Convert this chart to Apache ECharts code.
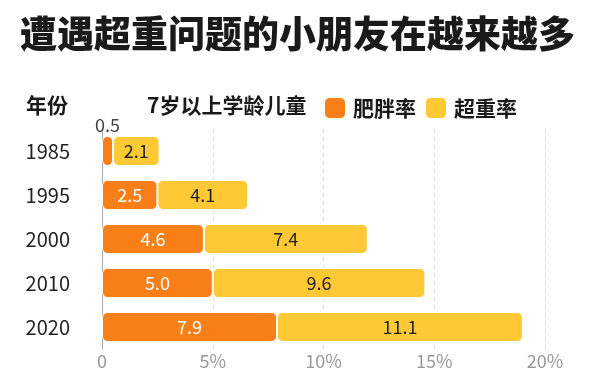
<!DOCTYPE html>
<html><head><meta charset="utf-8">
<script src="https://cdn.jsdelivr.net/npm/echarts@6/dist/echarts.min.js"></script>
<style>html,body{margin:0;padding:0;background:#fff}#c{width:600px;height:381px}</style>
</head><body><div id="c"></div>
<script>
const years = ['1985', '1995', '2000', '2010', '2020'];
const obese = [0.5, 2.5, 4.6, 5.0, 7.9];
const overweight = [2.1, 4.1, 7.4, 9.6, 11.1];
const xTicks = [0, 5, 10, 15, 20];
const FONT = '"Noto Sans CJK SC", "Noto Sans", sans-serif';
const ORANGE = '#F98019';
const YELLOW = '#FFC935';

const chart = echarts.init(document.getElementById('c'), null, {renderer: 'canvas'});
chart.setOption({
  backgroundColor: '#fff',
  animation: false,
  textStyle: {fontFamily: FONT},
  title: {
    text: '遭遇超重问题的小朋友在越来越多',
    left: 20, top: 15, padding: 0,
    textStyle: {fontSize: 37, fontWeight: 900, color: '#1a1a1a', fontFamily: FONT}
  },
  graphic: [
    {type: 'text', left: 26, top: 95, style: {text: '年份', font: 'bold 21px ' + FONT, fill: '#1a1a1a'}},
    {type: 'text', left: 147, top: 95, style: {text: '7岁以上学龄儿童', font: 'bold 21px ' + FONT, fill: '#1a1a1a'}}
  ],
  legend: {
    left: 323, top: 96, padding: 0,
    itemWidth: 22, itemHeight: 22, itemGap: 8,
    icon: 'roundRect',
    textStyle: {fontSize: 21, fontWeight: 'bold', color: '#1a1a1a', fontFamily: FONT, padding: [0, 0, 0, 2]},
    data: ['肥胖率', '超重率']
  },
  grid: {left: 102, right: 55, top: 129, bottom: 32, containLabel: false},
  xAxis: {
    type: 'value', min: 0, max: 20, interval: 5,
    axisLine: {show: false}, axisTick: {show: false},
    axisLabel: {
      fontSize: 18, color: '#999', margin: 3, fontFamily: FONT,
      formatter: v => xTicks.includes(v) ? (v === 0 ? '0' : v + '%') : ''
    },
    splitLine: {show: true, lineStyle: {type: [4, 4], color: '#ddd', width: 1}}
  },
  yAxis: {
    type: 'category', data: years, inverse: true,
    axisLine: {show: true, lineStyle: {color: '#aaa', width: 1}},
    axisTick: {show: false},
    axisLabel: {fontSize: 20, color: '#222', margin: 32, fontFamily: FONT}
  },
  series: [
    {
      name: '肥胖率', type: 'bar', stack: 'a', barWidth: 30,
      itemStyle: {color: ORANGE, borderRadius: 5, borderColor: '#fff', borderWidth: 1},
      label: {show: true, position: 'inside', color: '#fff', fontSize: 18, fontFamily: FONT,
        formatter: p => p.value.toFixed(1)},
      data: obese.map((v, i) => i === 0 ? {value: v, label: {position: 'top', color: '#444', distance: 2}} : v)
    },
    {
      name: '超重率', type: 'bar', stack: 'a', barWidth: 30,
      itemStyle: {color: YELLOW, borderRadius: 5, borderColor: '#fff', borderWidth: 1},
      label: {show: true, position: 'inside', color: '#222', fontSize: 18, fontFamily: FONT,
        formatter: p => p.value.toFixed(1)},
      data: overweight
    }
  ]
});
</script></body></html>
